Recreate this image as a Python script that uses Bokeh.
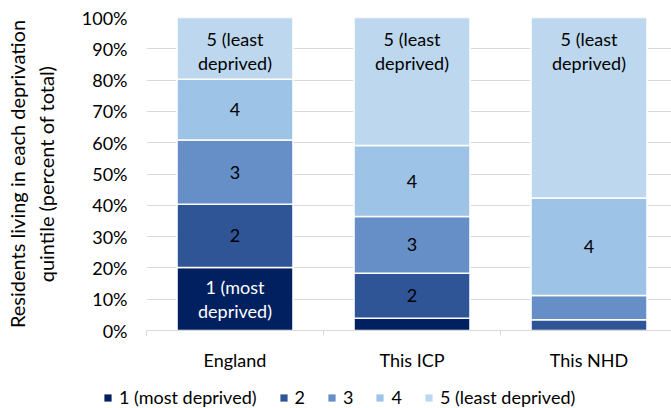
from bokeh.plotting import figure
from bokeh.layouts import column
from bokeh.models import (ColumnDataSource, Range1d, FixedTicker, PrintfTickFormatter,
                          LinearAxis, Legend, LegendItem, Grid)
from bokeh.core.properties import value
from bokeh.embed import file_html
from bokeh.resources import INLINE

# ---- data ----
categories = ["England", "This ICP", "This NHD"]
q1 = [20.1, 3.9, 0.0]
q2 = [20.2, 14.4, 3.4]
q3 = [20.6, 18.1, 7.8]
q4 = [19.4, 22.7, 31.1]
q5 = [19.7, 40.9, 57.7]
series_names = ["1 (most deprived)", "2", "3", "4", "5 (least deprived)"]
bar_labels = ["1 (most\ndeprived)", "2", "3", "4", "5 (least\ndeprived)"]
# which segments carry a label (per category)
show_label = [
    [True, True, True, True, True],
    [False, True, True, True, True],
    [False, False, False, True, True],
]
y_ticks = [0, 10, 20, 30, 40, 50, 60, 70, 80, 90, 100]

colors = ["#002060", "#2f5597", "#658fc6", "#9dc3e6", "#bdd7ee"]
label_colors = ["white", "black", "black", "black", "black"]
FONT = "Lato"
FS = "18px"

keys = ["q1", "q2", "q3", "q4", "q5"]
xs = list(range(len(categories)))
src = ColumnDataSource(dict(x=xs, q1=q1, q2=q2, q3=q3, q4=q4, q5=q5))

p = figure(width=671, height=380, output_backend="svg", toolbar_location=None,
           x_range=Range1d(-0.5, 2.466), y_range=Range1d(0, 100),
           x_axis_type=None, y_axis_type=None,
           min_border_left=146, min_border_right=0, min_border_top=17, min_border_bottom=50)
p.outline_line_color = None

renderers = p.vbar_stack(keys, x="x", width=0.655, source=src, color=colors,
                         line_color="white", line_width=1.5)

# labels
mids_x, mids_y, texts, tcols = [], [], [], []
top_x, top_y, top_t = [], [], []
series = [q1, q2, q3, q4, q5]
for ci in range(len(categories)):
    cum = 0.0
    for si in range(5):
        v = series[si][ci]
        if show_label[ci][si]:
            if si == 4:
                top_x.append(xs[ci]); top_y.append(cum + v); top_t.append(bar_labels[si])
            else:
                mids_x.append(xs[ci]); mids_y.append(cum + v / 2)
                texts.append(bar_labels[si]); tcols.append(label_colors[si])
        cum += v

p.text(x=mids_x, y=mids_y, text=texts, text_color=tcols, text_align="center",
       text_baseline="middle", text_font=value(FONT), text_font_size=FS,
       text_line_height=1.1)
p.text(x=top_x, y=top_y, text=top_t, text_color="black", text_align="center",
       text_baseline="top", text_font=value(FONT), text_font_size=FS,
       text_line_height=1.1, y_offset=10)

# y axis
yax = LinearAxis(ticker=FixedTicker(ticks=y_ticks),
                 formatter=PrintfTickFormatter(format="%d%%"))
yax.axis_line_color = None
yax.major_tick_line_color = None
yax.minor_tick_line_color = None
yax.major_tick_out = 0
yax.major_tick_in = 0
yax.major_label_standoff = 19
yax.major_label_text_font = FONT
yax.major_label_text_font_size = FS
yax.major_label_text_color = "black"
yax.axis_label = "Residents living in each deprivation\nquintile (percent of total)"
yax.axis_label_text_font = FONT
yax.axis_label_text_font_size = "20px"
yax.axis_label_text_font_style = "normal"
yax.axis_label_text_color = "black"
yax.axis_label_standoff = 21
p.add_layout(yax, "left")

p.add_layout(Grid(dimension=1, ticker=yax.ticker, grid_line_color="#d9d9d9", grid_line_width=1))

# x axis
xax = LinearAxis(ticker=FixedTicker(ticks=xs, minor_ticks=[-0.5, 0.5, 1.5, 2.5]))
xax.major_label_overrides = {i: c for i, c in zip(xs, categories)}
xax.axis_line_color = "#d9d9d9"
xax.major_tick_line_color = None
xax.major_tick_out = 0
xax.major_tick_in = 0
xax.minor_tick_line_color = "#d9d9d9"
xax.minor_tick_out = 5
xax.minor_tick_in = 0
xax.major_label_standoff = 13
xax.major_label_text_font = FONT
xax.major_label_text_font_size = FS
xax.major_label_text_color = "black"
p.add_layout(xax, "below")

# legend in a strip figure below the chart
lg = figure(width=671, height=28, output_backend="svg", toolbar_location=None,
            x_range=Range1d(0, 1), y_range=Range1d(0, 1),
            x_axis_type=None, y_axis_type=None,
            min_border_left=0, min_border_right=0, min_border_top=0, min_border_bottom=0)
lg.frame_align = False
lg.outline_line_color = None
lg.xgrid.visible = False
lg.ygrid.visible = False
items = []
for n, c in zip(series_names, colors):
    r = lg.vbar(x=[0.5], bottom=[0], top=[0], width=0, fill_color=c, line_color=None)
    items.append(LegendItem(label=n, renderers=[r]))
legend = Legend(items=items, orientation="horizontal", location=(103, 0))
legend.border_line_color = None
legend.background_fill_alpha = 0
legend.padding = 0
legend.margin = 0
legend.spacing = 22
legend.label_standoff = 7
legend.glyph_width = 9
legend.glyph_height = 9
legend.label_width = 8
legend.label_text_font = FONT
legend.label_text_font_size = FS
legend.label_text_color = "black"
lg.add_layout(legend, "center")

layout = column(p, lg, spacing=0)
open("out.html", "w").write(file_html(layout, INLINE))
